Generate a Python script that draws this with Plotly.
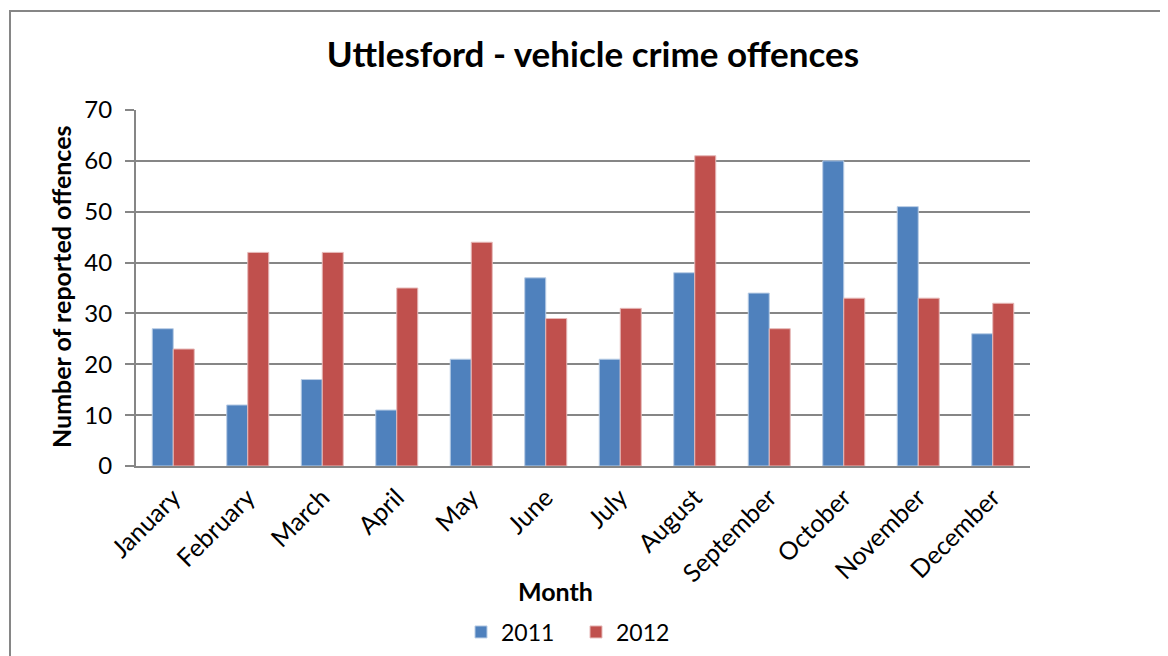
import plotly.graph_objects as go

months = ["January", "February", "March", "April", "May", "June", "July",
          "August", "September", "October", "November", "December"]
y2011 = [27, 12, 17, 11, 21, 37, 21, 38, 34, 60, 51, 26]
y2012 = [23, 42, 42, 35, 44, 29, 31, 61, 27, 33, 33, 32]
series_names = ["2011", "2012"]
y_ticks = [0, 10, 20, 30, 40, 50, 60, 70]

FONT = "Lato"
GRID = "#868686"
OFF = 8  # page body margin

fig = go.Figure()
fig.add_trace(go.Bar(x=months, y=y2011, name=series_names[0],
                     marker=dict(color="#4F81BD", line=dict(color="#B9CDE5", width=1))))
fig.add_trace(go.Bar(x=months, y=y2012, name=series_names[1],
                     marker=dict(color="#C0504D", line=dict(color="#E6B9B8", width=1))))

W, H = 1168, 656
# plot area in page pixels: x 136..1030, y 110..466
L = 136 - OFF
T = 110 - OFF
R = W - (1030 - OFF)
B = H - (466 - OFF)
pw, ph = W - L - R, H - T - B

def px_x(x):
    return (x - OFF - L) / pw

def px_y(y):
    return 1 - (y - OFF - T) / ph

fig.update_layout(
    width=W, height=H,
    margin=dict(l=L, r=R, t=T, b=B, pad=0, autoexpand=False),
    paper_bgcolor="white", plot_bgcolor="white",
    barmode="group", bargap=0.436, bargroupgap=0,
    font=dict(family=FONT, color="black"),
    title=dict(text="<b>Uttlesford - vehicle crime offences</b>",
               x=px_x(593), xref="paper", xanchor="center",
               y=1 - (55 - OFF) / H, yanchor="middle",
               font=dict(size=35, family=FONT, color="black")),
    xaxis=dict(tickangle=-45, tickfont=dict(size=25, family=FONT),
               showline=True, linecolor=GRID, linewidth=2,
               ticks="", showgrid=False, automargin=False,
               ticklabelstandoff=5),
    yaxis=dict(range=[0, 70], tickvals=y_ticks, tickfont=dict(size=24, family=FONT),
               showline=True, linecolor=GRID, linewidth=2,
               ticks="outside", ticklen=9, tickcolor=GRID, tickwidth=1.5,
               showgrid=True, gridcolor=GRID, gridwidth=1.5, zeroline=False,
               automargin=False, ticklabelstandoff=8),
    legend=dict(orientation="h", x=px_x(461), xanchor="left",
                y=px_y(632), yanchor="middle",
                font=dict(size=23, family=FONT), itemwidth=30,
                entrywidth=70, entrywidthmode="pixels",
                traceorder="normal"),
    showlegend=True,
    annotations=[
        dict(text="<b>Month</b>", xref="paper", yref="paper",
             x=px_x(555), y=px_y(591), xanchor="center", yanchor="middle",
             showarrow=False, font=dict(size=25, family=FONT)),
        dict(text="<b>Number of reported offences</b>", xref="paper", yref="paper",
             x=px_x(61), y=px_y(287), xanchor="center", yanchor="middle",
             textangle=-90, showarrow=False, font=dict(size=25, family=FONT)),
    ],
)

# outer chart border
fig.add_shape(type="rect", xref="paper", yref="paper",
              x0=px_x(10), x1=px_x(1185),
              y0=px_y(675), y1=px_y(11),
              line=dict(color=GRID, width=2), fillcolor="rgba(0,0,0,0)", layer="below")

fig.write_html("out.html")
